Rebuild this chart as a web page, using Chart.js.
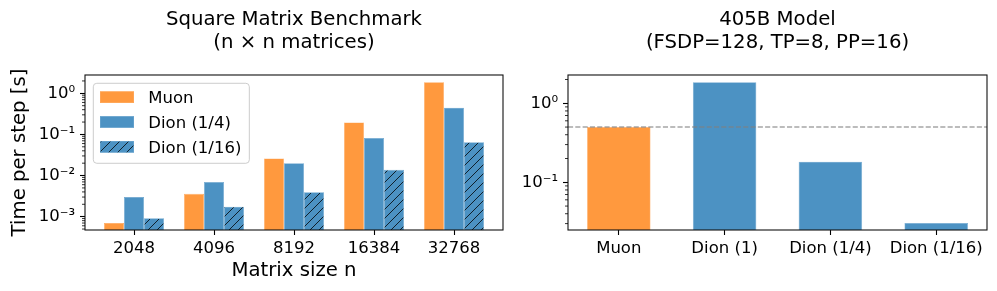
<!DOCTYPE html>
<html><head><meta charset="utf-8">
<script src="https://cdn.jsdelivr.net/npm/chart.js@4.4.0/dist/chart.umd.min.js"></script>
<style>
html,body{margin:0;padding:0;background:#fff;width:997px;height:291px;overflow:hidden}
canvas{position:absolute;top:0}
#left{left:0}
#right{left:510px}
</style></head><body>
<canvas id="left" width="510" height="291"></canvas>
<canvas id="right" width="487" height="291"></canvas>
<script>
// ---- data ----
const matrixSizes = ['2048', '4096', '8192', '16384', '32768'];
const muonTimes = [7.0e-4, 3.6e-3, 0.026, 0.196, 1.85];
const dionQuarterTimes = [3.0e-3, 7.0e-3, 0.020, 0.082, 0.446];
const dionSixteenthTimes = [9.1e-4, 1.75e-3, 3.9e-3, 0.0138, 0.065];
const seriesNames = ['Muon', 'Dion (1/4)', 'Dion (1/16)'];

const modelOptimizers = ['Muon', 'Dion (1)', 'Dion (1/4)', 'Dion (1/16)'];
const modelTimes = [0.5, 1.85, 0.182, 0.0305];
const muonBaseline = 0.5;

const leftYTicks = [1e-3, 1e-2, 1e-1, 1];
const leftYTickLabels = ['10⁻³', '10⁻²', '10⁻¹', '10⁰'];
const rightYTicks = [1e-1, 1];
const rightYTickLabels = ['10⁻¹', '10⁰'];
const leftYRange = [4.74e-4, 2.79];
const rightYRange = [0.0249, 2.28];

const leftTitle = ['Square Matrix Benchmark', '(n × n matrices)'];
const rightTitle = ['405B Model', '(FSDP=128, TP=8, PP=16)'];
const yTitle = 'Time per step [s]';
const xTitle = 'Matrix size n';

// ---- styles ----
const ORANGE = 'rgb(255,153,62)';
const BLUE = 'rgb(76,146,195)';
const ORANGE_EDGE = 'rgb(255,172,100)';
const BLUE_EDGE = 'rgb(112,168,208)';
const FONT = "'DejaVu Sans', sans-serif";
const TICK_FONT = 16.5;
const BIG_FONT = 19.7;

Chart.defaults.font.family = FONT;
Chart.defaults.color = '#000';

function hatchPattern(bg) {
  const s = 9;
  const c = document.createElement('canvas');
  c.width = s; c.height = s;
  const x = c.getContext('2d');
  x.fillStyle = bg; x.fillRect(0, 0, s, s);
  x.strokeStyle = 'rgba(0,0,0,0.78)';
  x.lineWidth = 1.0;
  x.beginPath();
  x.moveTo(-1, s + 1); x.lineTo(s + 1, -1);
  x.moveTo(-1, 1); x.lineTo(1, -1);
  x.moveTo(s - 1, s + 1); x.lineTo(s + 1, s - 1);
  x.stroke();
  return x.createPattern(c, 'repeat');
}

function xScale(labels, min, max, title) {
  const o = {
    type: 'linear', min, max, bounds: 'data', offset: false,
    afterBuildTicks: s => { s.ticks = labels.map((_, i) => ({ value: i })); },
    ticks: { callback: v => (labels[v] !== undefined ? labels[v] : ''), font: { size: TICK_FONT }, color: '#000', padding: 4, maxRotation: 0, autoSkip: false },
    grid: { drawOnChartArea: false, drawTicks: true, tickLength: 5, tickColor: '#000', tickWidth: 1.1, offset: false },
    border: { display: false },
    afterFit: s => { s.height = 61; }
  };
  if (title) o.title = { display: true, text: title, font: { size: BIG_FONT }, color: '#000', padding: { top: 0, bottom: 8.3 } };
  return o;
}

function yScale(range, tickVals, tickLabels, width, title) {
  const o = {
    type: 'logarithmic', min: range[0], max: range[1], bounds: 'data',
    afterBuildTicks: s => { s.ticks = tickVals.map(v => ({ value: v, major: true })); },
    ticks: { callback: v => { const i = tickVals.indexOf(v); return i >= 0 ? tickLabels[i] : ''; }, font: { size: TICK_FONT }, color: '#000', padding: 5, autoSkip: false },
    grid: { drawOnChartArea: false, drawTicks: true, tickLength: 5, tickColor: '#000', tickWidth: 1.1 },
    border: { display: false },
    afterFit: s => { s.width = width; }
  };
  if (title) o.title = { display: true, text: title, font: { size: BIG_FONT }, color: '#000', padding: { top: 8.3, bottom: 0 } };
  return o;
}

const framePlugin = {
  id: 'frame',
  afterDatasetsDraw(chart) {
    const a = chart.chartArea, ctx = chart.ctx;
    ctx.save();
    ctx.strokeStyle = '#111';
    ctx.lineWidth = 1.1;
    ctx.strokeRect(a.left, a.top, a.right - a.left, a.bottom - a.top);
    ctx.restore();
  }
};

const minorTickPlugin = {
  id: 'minorTicks',
  afterDraw(chart) {
    const sc = chart.scales.y, a = chart.chartArea, ctx = chart.ctx;
    const lo = Math.floor(Math.log10(sc.min)), hi = Math.ceil(Math.log10(sc.max));
    ctx.save();
    ctx.strokeStyle = '#000';
    ctx.lineWidth = 0.8;
    ctx.beginPath();
    for (let d = lo; d <= hi; d++) {
      for (let k = 2; k <= 9; k++) {
        const v = k * Math.pow(10, d);
        if (v < sc.min || v > sc.max) continue;
        const y = sc.getPixelForValue(v);
        ctx.moveTo(a.left - 3, y); ctx.lineTo(a.left, y);
      }
    }
    ctx.stroke();
    ctx.restore();
  }
};

const baselinePlugin = {
  id: 'baseline',
  afterDatasetsDraw(chart) {
    const a = chart.chartArea, ctx = chart.ctx;
    const y = chart.scales.y.getPixelForValue(muonBaseline);
    ctx.save();
    ctx.setLineDash([5.1, 2.2]);
    ctx.strokeStyle = 'rgba(128,128,128,0.7)';
    ctx.lineWidth = 1.4;
    ctx.beginPath(); ctx.moveTo(a.left, y); ctx.lineTo(a.right, y); ctx.stroke();
    ctx.restore();
  }
};

const legendPlugin = {
  id: 'insideLegend',
  afterDraw(chart) {
    const a = chart.chartArea, ctx = chart.ctx;
    const ds = chart.data.datasets;
    ctx.save();
    ctx.font = TICK_FONT + 'px ' + FONT;
    const x0 = a.left + 8.3, y0 = a.top + 8.3;
    const textX = a.left + 63.3;
    const maxW = Math.max(...ds.map(d => ctx.measureText(d.label).width));
    const w = textX + maxW + 8 - x0, h = 80;
    ctx.beginPath();
    ctx.roundRect(x0, y0, w, h, 3.5);
    ctx.fillStyle = 'rgba(255,255,255,0.8)';
    ctx.fill();
    ctx.strokeStyle = '#cccccc';
    ctx.lineWidth = 1;
    ctx.stroke();
    ds.forEach((d, i) => {
      const cy = y0 + 13.9 + i * 24.8;
      const sx = a.left + 15, sw = 34, sh = 11.5;
      ctx.fillStyle = d.backgroundColor;
      ctx.fillRect(sx, cy - sh / 2, sw, sh);
      ctx.strokeStyle = d.borderColor; ctx.lineWidth = 0.6;
      ctx.strokeRect(sx + 0.3, cy - sh / 2 + 0.3, sw - 0.6, sh - 0.6);
      ctx.fillStyle = '#000';
      ctx.textBaseline = 'alphabetic';
      ctx.textAlign = 'left';
      ctx.fillText(d.label, textX, cy + 6);
    });
    ctx.restore();
  }
};

function titleOpts(text) {
  return { display: true, text, fullSize: false, color: '#000',
    font: { size: BIG_FONT, weight: 'normal', lineHeight: 1.14 },
    padding: { top: 9, bottom: 21.08 } };
}

const hatchBlue = hatchPattern(BLUE);
const toXY = arr => arr.map((v, i) => ({ x: i, y: v }));

new Chart(document.getElementById('left'), {
  type: 'bar',
  data: {
    datasets: [
      { label: seriesNames[0], data: toXY(muonTimes), backgroundColor: ORANGE, borderColor: ORANGE_EDGE, borderWidth: 0.6 },
      { label: seriesNames[1], data: toXY(dionQuarterTimes), backgroundColor: BLUE, borderColor: BLUE_EDGE, borderWidth: 0.6 },
      { label: seriesNames[2], data: toXY(dionSixteenthTimes), backgroundColor: hatchBlue, borderColor: BLUE_EDGE, borderWidth: 0.6 }
    ]
  },
  options: {
    responsive: false, animation: false, devicePixelRatio: 1,
    categoryPercentage: 0.75, barPercentage: 1.0,
    layout: { padding: { left: 0, right: 7, top: 0, bottom: 0 } },
    scales: {
      x: xScale(matrixSizes, -0.6125, 4.6125, xTitle),
      y: yScale(leftYRange, leftYTicks, leftYTickLabels, 85, yTitle)
    },
    plugins: { title: titleOpts(leftTitle), legend: { display: false }, tooltip: { enabled: false } }
  },
  plugins: [framePlugin, minorTickPlugin, legendPlugin]
});

new Chart(document.getElementById('right'), {
  type: 'bar',
  data: {
    datasets: [
      { label: 'Time per step', data: toXY(modelTimes),
        backgroundColor: modelOptimizers.map(n => n === 'Muon' ? ORANGE : BLUE),
        borderColor: modelOptimizers.map(n => n === 'Muon' ? ORANGE_EDGE : BLUE_EDGE),
        borderWidth: 0.6 }
    ]
  },
  options: {
    responsive: false, animation: false, devicePixelRatio: 1,
    categoryPercentage: 1.0, barPercentage: 0.6,
    layout: { padding: { left: 0, right: 10, top: 0, bottom: 0 } },
    scales: {
      x: xScale(modelOptimizers, -0.48, 3.48, null),
      y: yScale(rightYRange, rightYTicks, rightYTickLabels, 58, null)
    },
    plugins: { title: titleOpts(rightTitle), legend: { display: false }, tooltip: { enabled: false } }
  },
  plugins: [baselinePlugin, framePlugin, minorTickPlugin]
});
</script>
</body></html>
